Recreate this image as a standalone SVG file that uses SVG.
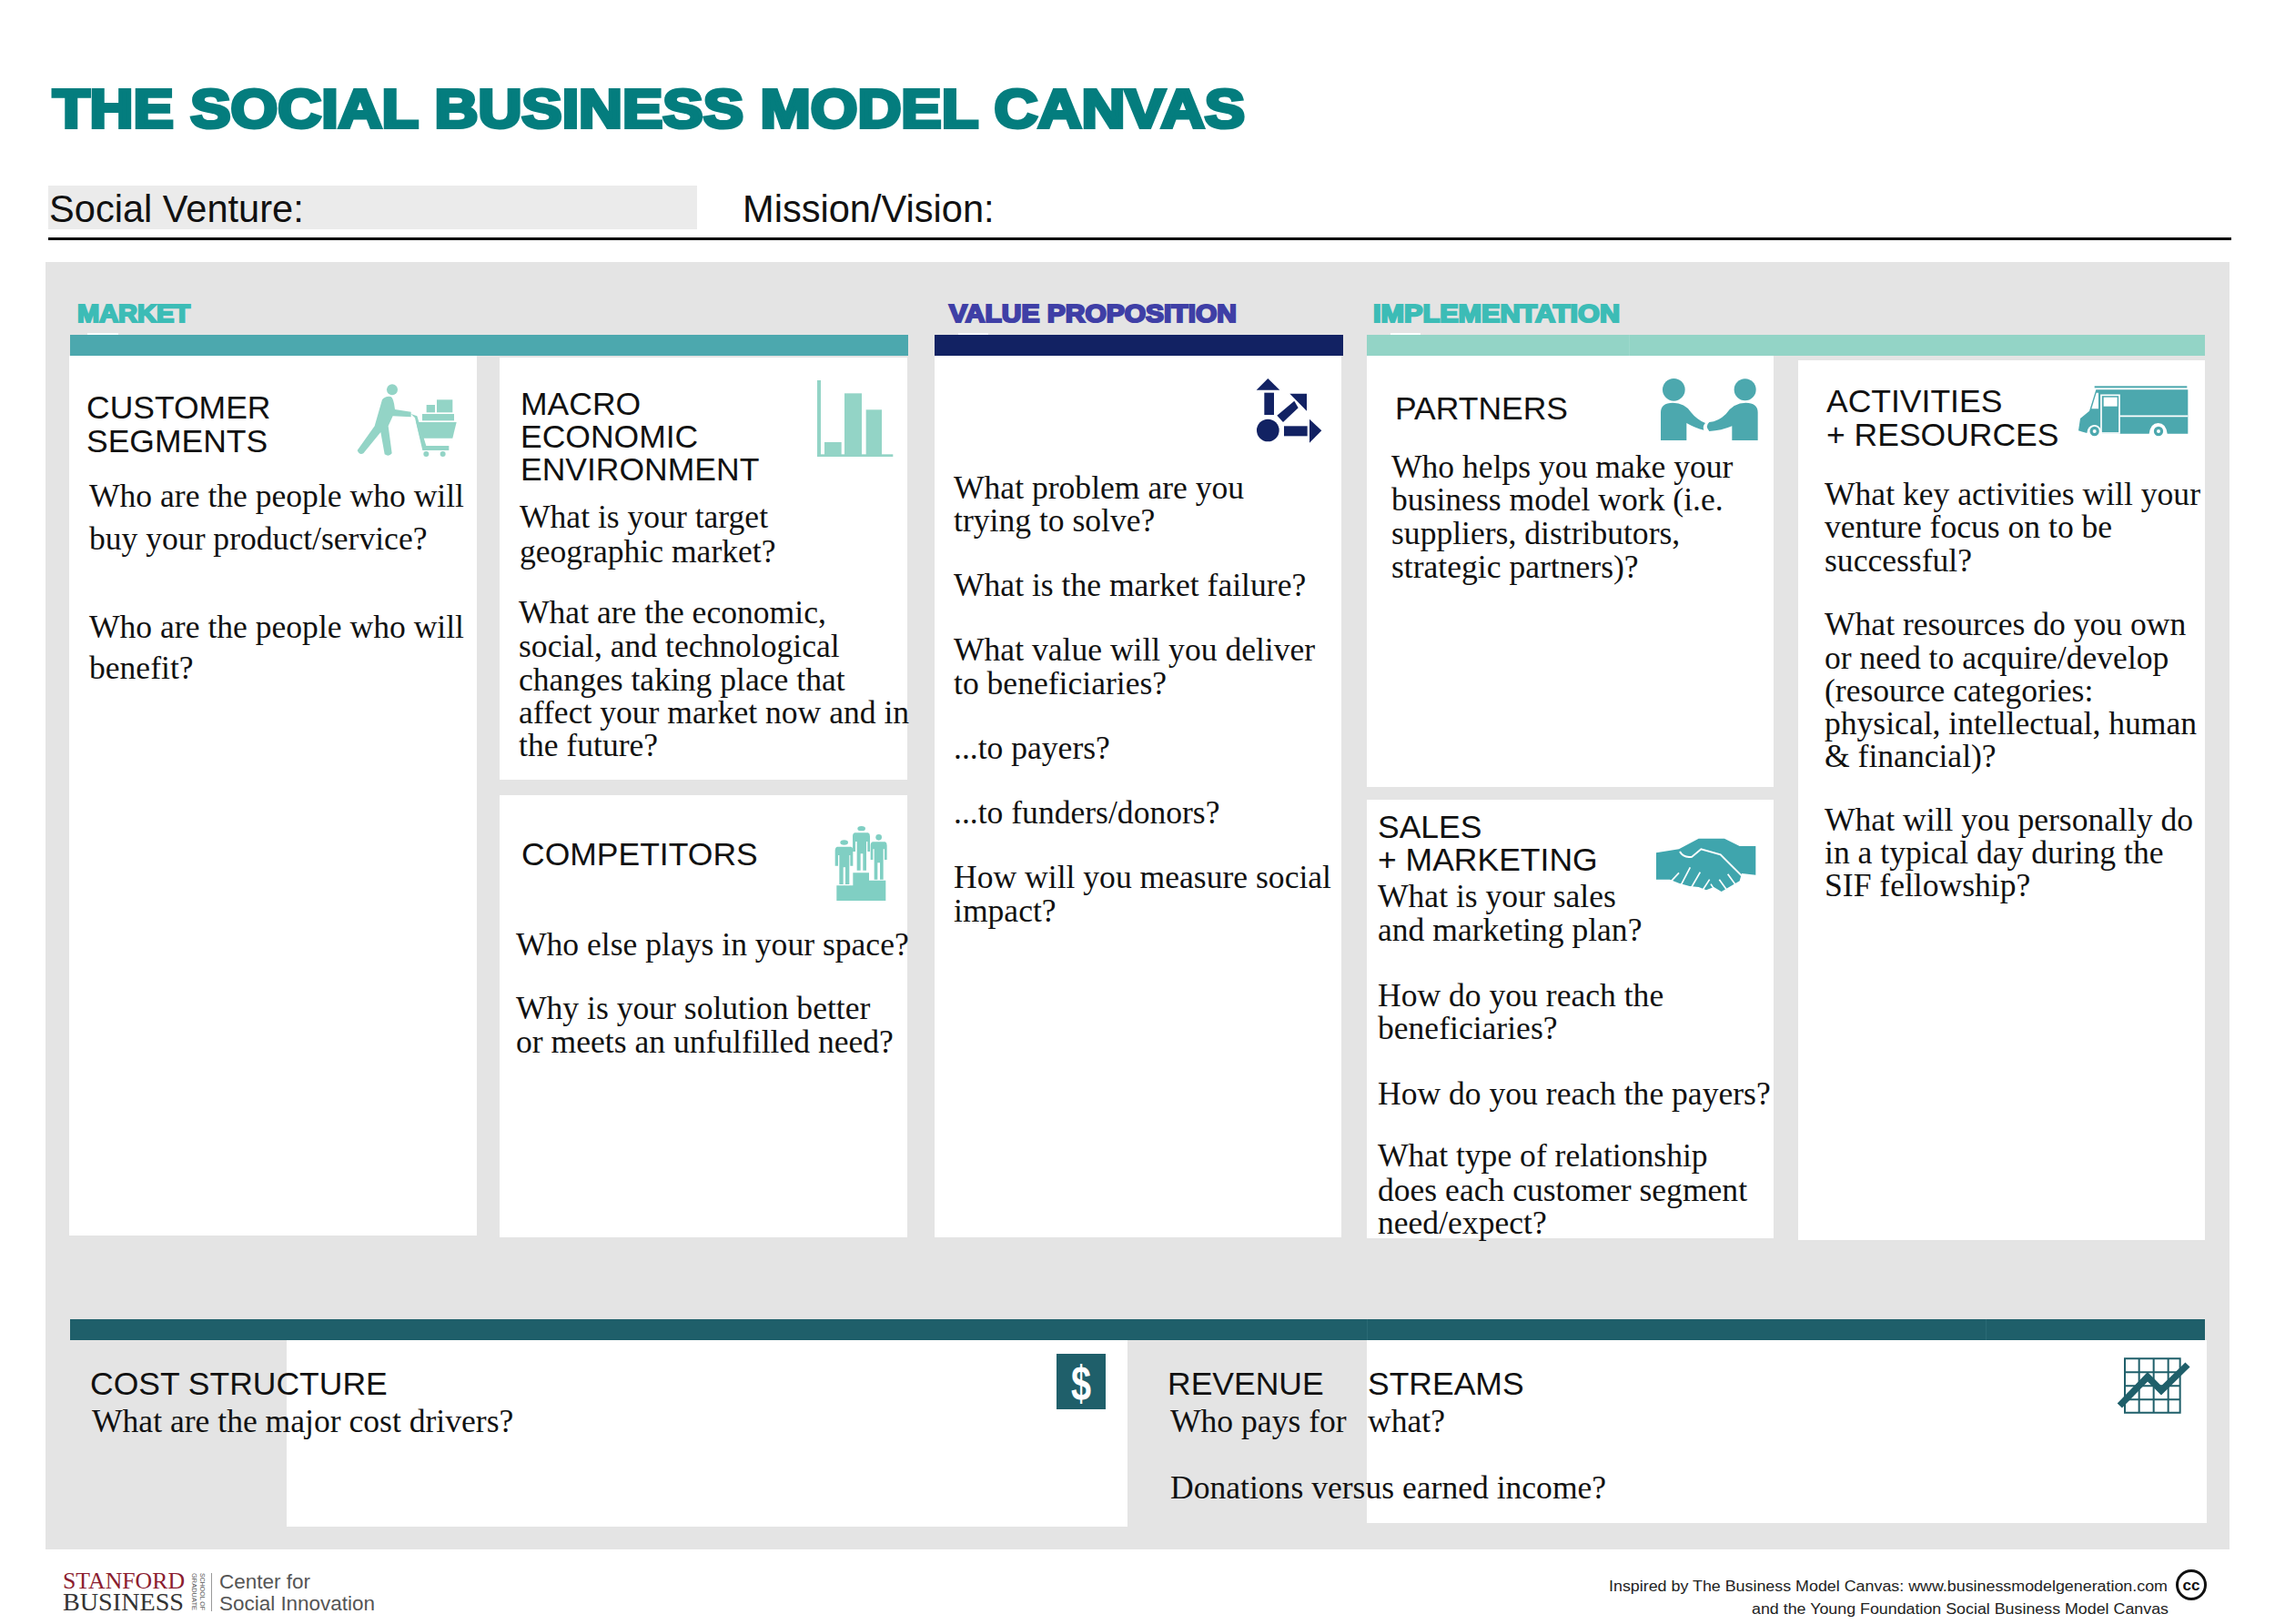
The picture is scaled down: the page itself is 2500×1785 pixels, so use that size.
<svg xmlns="http://www.w3.org/2000/svg" width="2500" height="1785" viewBox="0 0 2500 1785">
<style>
text{white-space:pre}
.h{font:35.5px "Liberation Sans",Arial,sans-serif;fill:#111}
.b{font:35.6px "Liberation Serif","Times New Roman",serif;fill:#111}
.s{font:bold 28px "Liberation Sans",Arial,sans-serif;stroke-width:2.2;paint-order:stroke}
.c{fill:#fff}
.f{font:16px "Liberation Sans",Arial,sans-serif;fill:#222}
.t{fill:#93d4c6}.u{fill:#4ca8ae}.n{fill:#122263}.d{fill:#1f5f6a}
</style>
<rect width="2500" height="1785" fill="#fff"/>
<g id="title">
<text x="58" y="140" textLength="1310" lengthAdjust="spacingAndGlyphs" style="font:bold 60px 'Liberation Sans',Arial,sans-serif;fill:#047d7e;stroke:#047d7e;stroke-width:4">THE SOCIAL BUSINESS MODEL CANVAS</text>
<rect x="53" y="204" width="713" height="48" fill="#ebebeb"/>
<text x="54" y="244" style="font:41.6px 'Liberation Sans',Arial,sans-serif;fill:#111">Social Venture:</text>
<text x="816" y="244" style="font:41.6px 'Liberation Sans',Arial,sans-serif;fill:#111">Mission/Vision:</text>
<rect x="53" y="261" width="2399" height="3" fill="#000"/>
</g>
<rect id="panel" x="50" y="288" width="2400" height="1415" fill="#e4e4e4"/>
<g id="bands">
<text class="s" x="85" y="354" textLength="124" lengthAdjust="spacingAndGlyphs" fill="#3cbcb6" stroke="#3cbcb6">MARKET</text>
<text class="s" x="1043" y="354" textLength="316" lengthAdjust="spacingAndGlyphs" fill="#3f3fa6" stroke="#3f3fa6">VALUE PROPOSITION</text>
<text class="s" x="1509" y="354" textLength="271" lengthAdjust="spacingAndGlyphs" fill="#3cbcb6" stroke="#3cbcb6">IMPLEMENTATION</text>
<rect class="c" x="96" y="366" width="34" height="2"/><rect class="c" x="1053" y="366" width="33" height="2"/><rect class="c" x="1528" y="366" width="33" height="2"/>
<rect class="u" x="77" y="368" width="921" height="23"/>
<rect class="n" x="1027" y="368" width="449" height="23"/>
<rect class="t" x="1502" y="368" width="921" height="23"/>
<rect x="1790" y="368" width="1" height="23" fill="#9dd9cc"/>
<rect class="d" x="77" y="1450" width="2346" height="23"/>
<rect x="1502" y="1450" width="1" height="23" fill="#2a6a75"/><rect x="2182" y="1450" width="1" height="23" fill="#2a6a75"/>
</g>
<g id="customer-segments">
<rect class="c" x="76" y="391" width="448" height="967"/>
<text class="h" x="95" y="460">CUSTOMER</text><text class="h" x="95" y="497">SEGMENTS</text>
<g class="t" transform="translate(370 400) scale(.3333)">
<circle cx="183" cy="85" r="18"/>
<path d="M150,118Q160,105 178,108Q188,112 192,150L245,158V175L185,172L170,205L182,295Q172,308 158,298L145,225L88,295Q75,302 68,285L125,205Z"/>
<path d="M245,165L265,172L295,270H370V285H283L258,178Z"/>
<path d="M262,192H395L382,245H275Z"/><rect x="282" y="165" width="105" height="22"/><rect x="296" y="135" width="28" height="25"/><rect x="330" y="118" width="52" height="42"/>
<circle cx="295" cy="297" r="9"/><circle cx="350" cy="297" r="9"/>
</g>
<text class="b" x="98" y="557">Who are the people who will</text>
<text class="b" x="98" y="604">buy your product/service?</text>
<text class="b" x="98" y="701">Who are the people who will</text>
<text class="b" x="98" y="746">benefit?</text>
</g>
<g id="macro-economic-environment">
<rect class="c" x="549" y="393" width="448" height="464"/>
<text class="h" x="572" y="456">MACRO</text><text class="h" x="572" y="492">ECONOMIC</text><text class="h" x="572" y="528">ENVIRONMENT</text>
<g class="t" transform="translate(880 400) scale(.3333)">
<rect x="54" y="54" width="12" height="252"/><rect x="54" y="298" width="250" height="8"/><rect x="78" y="258" width="56" height="45"/><rect x="144" y="97" width="57" height="205"/><rect x="215" y="151" width="52" height="150"/>
</g>
<text class="b" x="571" y="580">What is your target</text>
<text class="b" x="571" y="618">geographic market?</text>
<text class="b" x="570" y="685">What are the economic,</text>
<text class="b" x="570" y="722">social, and technological</text>
<text class="b" x="570" y="759">changes taking place that</text>
<text class="b" x="570" y="795">affect your market now and in</text>
<text class="b" x="570" y="831">the future?</text>
</g>
<g id="competitors">
<rect class="c" x="549" y="874" width="448" height="486"/>
<text class="h" x="573" y="951">COMPETITORS</text>
<g fill="#80cfc3" transform="translate(900 890) scale(.3333)">
<path d="M58,250H112V208H165V233H220V300H58Z"/>
<ellipse cx="83" cy="108" rx="13" ry="8"/><ellipse cx="140" cy="62" rx="13" ry="8"/><circle cx="197" cy="91" r="10"/>
<path d="M60,122H106Q112,124 112,135V185H103V150H100V246H87V190H80V246H67V150H63V185H53V135Q53,124 60,122Z"/>
<path d="M118,76H162Q168,78 168,88V138H160V105H156V200H145V145H137V200H125V105H120V138H111V88Q111,78 118,76Z"/>
<path d="M177,106H218Q224,108 224,118V165H216V130H212V230H201V175H193V230H182V130H178V165H170V118Q170,108 177,106Z"/>
</g>
<text class="b" x="567" y="1050">Who else plays in your space?</text>
<text class="b" x="567" y="1120">Why is your solution better</text>
<text class="b" x="567" y="1157">or meets an unfulfilled need?</text>
</g>
<g id="value-proposition">
<rect class="c" x="1027" y="391" width="447" height="969"/>
<g class="n" transform="translate(1360 400) scale(.3333)">
<path d="M62,86H139L100,48Z"/><rect x="88" y="95" width="32" height="73"/><path d="M172,98H228V155Z"/><path d="M130,170L187,122L200,145L150,192Z"/><circle cx="100" cy="219" r="37"/><rect x="153" y="205" width="77" height="33"/><path d="M237,182L277,220L237,260Z"/>
</g>
<text class="b" x="1048" y="548">What problem are you</text>
<text class="b" x="1048" y="584">trying to solve?</text>
<text class="b" x="1048" y="655">What is the market failure?</text>
<text class="b" x="1048" y="726">What value will you deliver</text>
<text class="b" x="1048" y="763">to beneficiaries?</text>
<text class="b" x="1048" y="834">...to payers?</text>
<text class="b" x="1048" y="905">...to funders/donors?</text>
<text class="b" x="1048" y="976">How will you measure social</text>
<text class="b" x="1048" y="1013">impact?</text>
</g>
<g id="partners">
<rect class="c" x="1502" y="391" width="447" height="474"/>
<text class="h" x="1533" y="461">PARTNERS</text>
<g class="u" transform="translate(1810 400) scale(.3333)">
<circle cx="88" cy="85" r="37"/><circle cx="323" cy="85" r="36"/>
<path d="M45,252V160Q45,128 85,128Q125,128 145,160Q165,185 192,195Q182,205 187,218Q160,212 130,195V252Z"/>
<path d="M365,252V160Q365,128 325,128Q285,128 260,165Q235,190 205,192Q190,205 205,222Q245,220 280,205V252Z"/>
</g>
<text class="b" x="1529" y="525">Who helps you make your</text>
<text class="b" x="1529" y="561">business model work (i.e.</text>
<text class="b" x="1529" y="598">suppliers, distributors,</text>
<text class="b" x="1529" y="635">strategic partners)?</text>
</g>
<g id="sales-marketing">
<rect class="c" x="1502" y="879" width="447" height="482"/>
<text class="h" x="1514" y="921">SALES</text><text class="h" x="1514" y="957">+ MARKETING</text>
<g transform="translate(1800 900) scale(.3333)">
<path fill="#3fa5ad" d="M60,112L135,100L200,65H285L335,90H388V185L342,180L335,205L275,240L250,225L225,235L200,225L170,222L135,212L105,200H60Z"/>
<path d="M138,108Q150,130 178,125L208,100L272,118L342,188" fill="none" stroke="#fff" stroke-width="6"/>
<path d="M110,205L135,178M140,222L172,160M175,228L205,176M210,240L236,200M262,248L240,215M295,238L268,200M325,222L296,182" fill="none" stroke="#fff" stroke-width="5"/>
</g>
<text class="b" x="1514" y="997">What is your sales</text>
<text class="b" x="1514" y="1034">and marketing plan?</text>
<text class="b" x="1514" y="1106">How do you reach the</text>
<text class="b" x="1514" y="1142">beneficiaries?</text>
<text class="b" x="1514" y="1214">How do you reach the payers?</text>
<text class="b" x="1514" y="1282">What type of relationship</text>
<text class="b" x="1514" y="1320">does each customer segment</text>
<text class="b" x="1514" y="1356">need/expect?</text>
</g>
<g id="activities-resources">
<rect class="c" x="1976" y="396" width="447" height="967"/>
<text class="h" x="2007" y="453">ACTIVITIES</text><text class="h" x="2007" y="490">+ RESOURCES</text>
<g transform="translate(2270 410) scale(.3333)">
<rect class="u" x="95" y="43" width="305" height="6"/>
<path class="u" d="M100,55H403V200H335Q330,165 305,165Q280,165 275,200H120Q115,172 95,172Q72,172 70,198L42,190L48,150L78,125Z"/>
<path d="M85,118L101,65H108V118Z" fill="#fff"/>
<rect x="117" y="73" width="60" height="125" fill="none" stroke="#fff" stroke-width="5"/>
<rect x="125" y="80" width="45" height="30" fill="#fff"/>
<path d="M178,142H403" stroke="#fff" stroke-width="5"/>
<g class="u" stroke="#fff" stroke-width="5"><circle cx="95" cy="192" r="18"/><circle cx="306" cy="192" r="18"/></g>
<circle cx="95" cy="192" r="6" fill="#fff"/><circle cx="306" cy="192" r="6" fill="#fff"/>
</g>
<text class="b" x="2005" y="555">What key activities will your</text>
<text class="b" x="2005" y="591">venture focus on to be</text>
<text class="b" x="2005" y="628">successful?</text>
<text class="b" x="2005" y="698">What resources do you own</text>
<text class="b" x="2005" y="735">or need to acquire/develop</text>
<text class="b" x="2005" y="771">(resource categories:</text>
<text class="b" x="2005" y="807">physical, intellectual, human</text>
<text class="b" x="2005" y="843">&amp; financial)?</text>
<text class="b" x="2005" y="913">What will you personally do</text>
<text class="b" x="2005" y="949">in a typical day during the</text>
<text class="b" x="2005" y="985">SIF fellowship?</text>
</g>
<g id="cost-structure">
<rect class="c" x="315" y="1473" width="924" height="205"/>
<text class="h" x="99" y="1533">COST STRUCTURE</text>
<text class="b" x="101" y="1574">What are the major cost drivers?</text>
<rect class="d" x="1161" y="1488" width="54" height="61"/>
<text x="1188" y="1539" text-anchor="middle" textLength="22" lengthAdjust="spacingAndGlyphs" style="font:bold 54px 'Liberation Sans',Arial,sans-serif;fill:#fff">$</text>
</g>
<g id="revenue-streams">
<rect class="c" x="1502" y="1473" width="923" height="201"/>
<text class="h" x="1283" y="1533">REVENUE</text><text class="h" x="1503" y="1533">STREAMS</text>
<text class="b" x="1286" y="1574">Who pays for</text><text class="b" x="1503" y="1574">what?</text>
<text class="b" x="1286" y="1647">Donations versus earned income?</text>
<g transform="translate(2310 1480) scale(.3333)">
<path d="M75,40H257V218H75ZM122,40V218M170,40V218M218,40V218M75,85H257M75,130H257M75,175H257" fill="none" stroke="#1f5f6a" stroke-width="6"/>
<path d="M58,195L150,100L195,145L282,60" fill="none" stroke="#1f5f6a" stroke-width="22"/>
</g>
</g>
<g id="footer">
<text x="69" y="1746" textLength="134" lengthAdjust="spacingAndGlyphs" style="font:26px 'Liberation Serif',serif;fill:#8c1d2f">STANFORD</text>
<text x="69" y="1770" textLength="133" lengthAdjust="spacingAndGlyphs" style="font:27px 'Liberation Serif',serif;fill:#333">BUSINESS</text>
<text transform="translate(211 1729) rotate(90)" textLength="41" lengthAdjust="spacingAndGlyphs" style="font:7px 'Liberation Sans',sans-serif;fill:#555">GRADUATE</text>
<text transform="translate(220 1729) rotate(90)" textLength="41" lengthAdjust="spacingAndGlyphs" style="font:7px 'Liberation Sans',sans-serif;fill:#555">SCHOOL OF</text>
<rect x="232" y="1729" width="1" height="42" fill="#999"/>
<text x="241" y="1746" textLength="100" lengthAdjust="spacingAndGlyphs" style="font:22px 'Liberation Sans',sans-serif;fill:#555">Center for</text>
<text x="241" y="1770" textLength="171" lengthAdjust="spacingAndGlyphs" style="font:22px 'Liberation Sans',sans-serif;fill:#555">Social Innovation</text>
<text class="f" x="1768" y="1749" textLength="614" lengthAdjust="spacingAndGlyphs">Inspired by The Business Model Canvas: www.businessmodelgeneration.com</text>
<text class="f" x="1925" y="1774" textLength="458" lengthAdjust="spacingAndGlyphs">and the Young Foundation Social Business Model Canvas</text>
<circle cx="2408" cy="1742" r="15.5" fill="#fff" stroke="#111" stroke-width="3"/>
<text x="2408" y="1748" text-anchor="middle" style="font:bold 17px 'Liberation Sans',sans-serif;fill:#111">cc</text>
</g>
<g id="connectors"/>
</svg>
